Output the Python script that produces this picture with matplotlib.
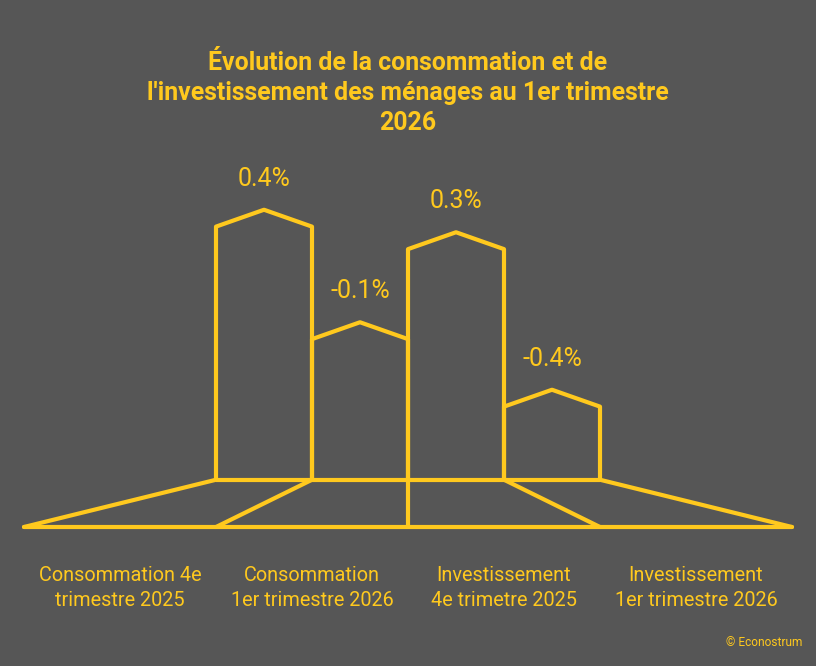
import matplotlib.pyplot as plt

plt.rcParams['font.family'] = ['Roboto', 'DejaVu Sans']

# data
categories = ['Consommation 4e\ntrimestre 2025',
              'Consommation\n1er trimestre 2026',
              'Investissement\n4e trimetre 2025',
              'Investissement\n1er trimestre 2026']
values = [0.4, -0.1, 0.3, -0.4]
value_labels = ['0.4%', '-0.1%', '0.3%', '-0.4%']
title = ("Évolution de la consommation et de\n"
         "l'investissement des ménages au 1er trimestre\n2026")

yellow = '#FFC91E'
bg = '#565656'
lw = 3.0

floor = -0.725      # value at the base of the houses
ground = -0.935     # front edge of the ground plane
roof = 0.075        # roof rise, in value units
vanish = 1.5        # centre of the perspective

fig = plt.figure(figsize=(8.16, 6.66), dpi=100)
fig.patch.set_facecolor(bg)
ax = fig.add_axes([24 / 816, 139 / 666, 768 / 816, 377 / 666])
ax.set_facecolor(bg)
ax.set_xlim(-2.5, 5.5)
ax.set_ylim(ground, ground + 377 / 225)
ax.axis('off')

def project(x):
    # where a bar edge lands on the front edge of the ground
    return vanish + 2 * (x - vanish)

line_kw = dict(color=yellow, lw=lw, solid_capstyle='round',
               solid_joinstyle='round', clip_on=False)

# ground plane
n = len(values)
edges = [i - 0.5 for i in range(n + 1)]
ax.plot([edges[0], edges[-1]], [floor, floor], **line_kw)
ax.plot([project(edges[0]), project(edges[-1])], [ground, ground], **line_kw)
for e in edges:
    ax.plot([e, project(e)], [floor, ground], **line_kw)

# houses
for i, v in enumerate(values):
    xs = [i - 0.5, i - 0.5, i, i + 0.5, i + 0.5]
    ys = [floor, v, v + roof, v, floor]
    ax.plot(xs, ys, **line_kw)
    ax.annotate(value_labels[i], (i, v + roof), xytext=(0, 31),
                textcoords='offset pixels', ha='center', va='center',
                color=yellow, fontsize=18, annotation_clip=False)
    ax.annotate(categories[i], (project(i), ground),
                xytext=(0, -61), textcoords='offset pixels',
                ha='center', va='center', color=yellow, fontsize=14.3,
                linespacing=1.45, annotation_clip=False)

fig.text(0.5, 1 - 93 / 666, title, ha='center', va='center',
         color=yellow, fontsize=17.9, fontweight='bold', linespacing=1.3)
fig.text(802 / 816, 1 - 643 / 666, '© Econostrum', ha='right', va='center',
         color=yellow, fontsize=8.6)

fig.savefig('out.png', dpi=100, facecolor=bg)
